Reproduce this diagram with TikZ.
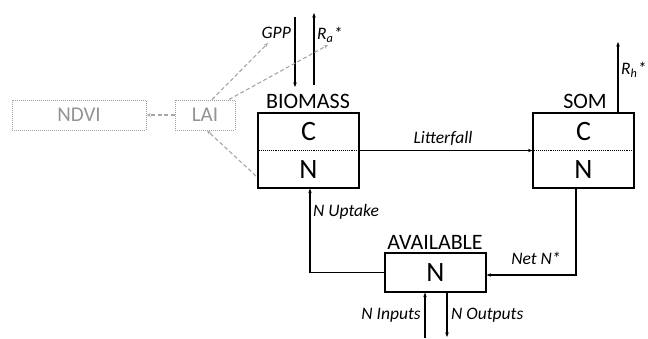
\documentclass[tikz,border=0pt]{standalone}
\usepackage{fontspec}
\setmainfont{Carlito}
\usetikzlibrary{arrows.meta}
\begin{document}
\begin{tikzpicture}[x=1pt,y=-1pt,
  pool/.style={draw, line width=1.2pt, minimum width=101pt, minimum height=75pt, inner sep=0pt},
  big/.style={font=\fontsize{28}{30}\selectfont, inner sep=0pt},
  title/.style={font=\fontsize{22}{24}\selectfont, inner sep=0pt},
  flux/.style={font=\itshape\fontsize{17.5}{19}\selectfont, inner sep=1pt},
  flow/.style={-{Stealth[length=4.5pt,width=3.5pt]}, line width=1.1pt},
  proxy/.style={draw=gray!75, densely dotted, line width=1pt, text=gray!85, font=\fontsize{21}{23}\selectfont, minimum height=30pt, inner sep=0pt},
  dflow/.style={draw=gray!70, dash pattern=on 4pt off 2.5pt, line width=1.1pt, -{Stealth[length=4.5pt,width=3.5pt]}}]
\useasboundingbox (0,0) rectangle (648,338);

% pools
\node[pool] (bio) at (308.5,150.5) {};
\node[big] (bioC) at (308.5,132) {C};
\node[big] (bioN) at (308.5,170) {N};
\draw[densely dotted, line width=0.9pt] (bio.west) -- (bio.east);
\node[title, anchor=base] (bioT) at (308,108) {BIOMASS};

\node[pool] (som) at (583.5,150.5) {};
\node[big] (somC) at (583.5,132) {C};
\node[big] (somN) at (583.5,170) {N};
\draw[densely dotted, line width=0.9pt] (som.west) -- (som.east);
\node[title, anchor=base] (somT) at (585,108) {SOM};

\node[pool, minimum height=39pt] (avail) at (435.5,272.5) {};
\node[big] (availN) at (435.5,273) {N};
\node[title, anchor=base] (availT) at (435,249) {AVAILABLE};

% proxies
\node[proxy, minimum width=134pt] (ndvi) at (79,115) {NDVI};
\node[proxy, minimum width=60pt] (lai) at (205,115) {LAI};

% fluxes
\coordinate (gppA) at (295,17);
\coordinate (gppB) at (295,87);
\coordinate (raA) at (314,85);
\coordinate (raB) at (314,13);
\draw[flow] (gppA) -- (gppB);
\draw[flow] (raA) -- (raB);
\node[flux, anchor=east] (gppL) at (292,33) {GPP};
\node[flux, anchor=west] (raL) at (316,35) {R\textsubscript{a}*};

\coordinate (rhB) at (618,42);
\draw[flow] (rhB |- som.north) -- (rhB);
\node[flux, anchor=west] (rhL) at (620,70) {R\textsubscript{h}*};

\draw[flow] (bio.east) -- (som.west);
\node[flux] (litL) at (443,138) {Litterfall};

\draw[flow] (avail.west) -| ([xshift=1.5pt]bio.south);
\node[flux, anchor=west] (upL) at (312,212) {N Uptake};

\draw[flow] ([xshift=-7.5pt]som.south) |- ([yshift=-2.5pt]avail.east);
\node[flux] (netL) at (536,258) {Net N*};

\coordinate (inA) at (425,338);
\coordinate (outB) at (447,337);
\draw[flow] (inA) -- (inA |- avail.south);
\draw[flow] (outB |- avail.south) -- (outB);
\node[flux, anchor=east] (inL) at (422,315) {N Inputs};
\node[flux, anchor=west] (outL) at (450,315) {N Outputs};

% remote sensing links
\coordinate (gppT) at (268,43);
\coordinate (raT) at (328,45);
\coordinate (bioS) at (256,176);
\draw[dflow] (lai.west) -- (ndvi.east);
\draw[dflow] ([xshift=7pt]lai.north) -- (gppT);
\draw[dflow] ([xshift=24pt]lai.north) -- (raT);
\draw[dflow] (bioS) -- ([xshift=2pt]lai.south);
\end{tikzpicture}
\end{document}
